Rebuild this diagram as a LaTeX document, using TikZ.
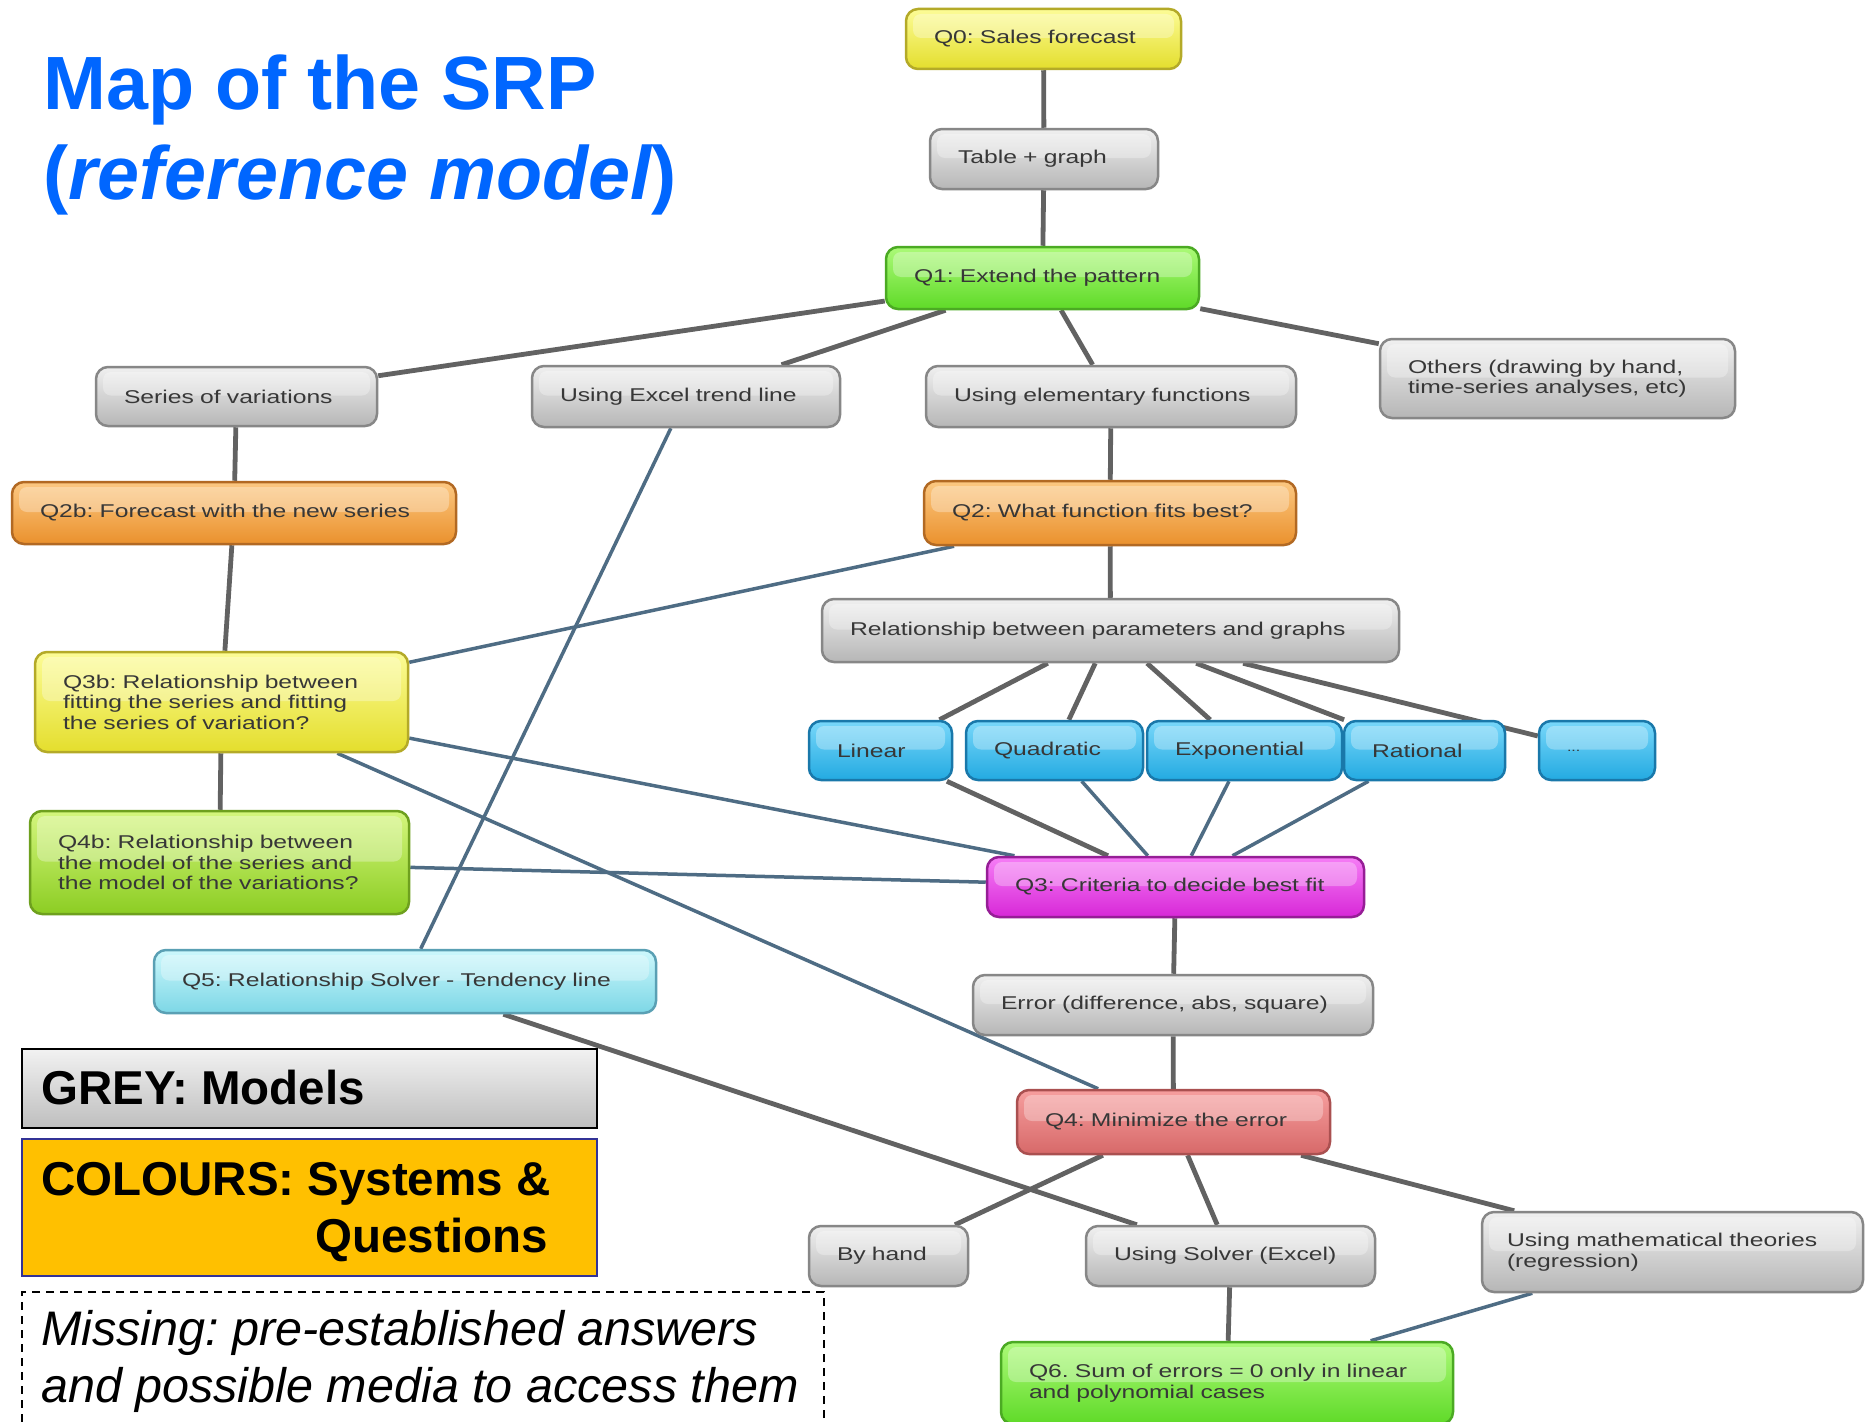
\documentclass[tikz,border=0pt]{standalone}
\usepackage{fontspec}
\setmainfont{Liberation Sans}
\newfontfamily\nodefont[FakeStretch=1.335]{Liberation Sans}
\usetikzlibrary{backgrounds}
\frenchspacing
\definecolor{titleblue}{RGB}{0,102,255}
\definecolor{nodetext}{RGB}{55,55,55}
\definecolor{glinec}{RGB}{98,98,98}
\definecolor{blinec}{RGB}{78,108,132}
\definecolor{legorange}{RGB}{255,192,0}
\definecolor{legborder}{RGB}{50,50,150}
\tikzset{
  mapbox/.style={rounded corners=12pt, line width=2.5pt, inner xsep=28pt, inner ysep=0pt,
    align=left, font=\nodefont\fontsize{18.5}{20.5}\selectfont\frenchspacing, text=nodetext,
    path picture={\fill[white,opacity=0.3,rounded corners=8pt]
      ([xshift=7pt,yshift=-5pt]path picture bounding box.north west) rectangle
      ([xshift=-7pt,yshift=1pt]path picture bounding box.east);}},
  greybox/.style={mapbox, top color={rgb,255:red,240;green,240;blue,240}, bottom color={rgb,255:red,182;green,182;blue,182}, draw={rgb,255:red,135;green,135;blue,135}},
  yellowbox/.style={mapbox, top color={rgb,255:red,252;green,252;blue,150}, bottom color={rgb,255:red,228;green,222;blue,45}, draw={rgb,255:red,180;green,170;blue,40}},
  greenbox/.style={mapbox, top color={rgb,255:red,172;green,250;blue,120}, bottom color={rgb,255:red,95;green,218;blue,40}, draw={rgb,255:red,75;green,170;blue,35}},
  orangebox/.style={mapbox, top color={rgb,255:red,252;green,200;blue,130}, bottom color={rgb,255:red,234;green,145;blue,45}, draw={rgb,255:red,178;green,105;blue,35}},
  limebox/.style={mapbox, top color={rgb,255:red,212;green,246;blue,125}, bottom color={rgb,255:red,140;green,205;blue,35}, draw={rgb,255:red,110;green,160;blue,30}},
  cyanbox/.style={mapbox, top color={rgb,255:red,205;green,248;blue,252}, bottom color={rgb,255:red,125;green,215;blue,230}, draw={rgb,255:red,90;green,160;blue,180}},
  bluebox/.style={mapbox, top color={rgb,255:red,120;green,215;blue,250}, bottom color={rgb,255:red,35;green,170;blue,225}, draw={rgb,255:red,25;green,120;blue,170}},
  magentabox/.style={mapbox, top color={rgb,255:red,246;green,125;blue,246}, bottom color={rgb,255:red,215;green,40;blue,215}, draw={rgb,255:red,150;green,30;blue,150}},
  redbox/.style={mapbox, top color={rgb,255:red,246;green,158;blue,158}, bottom color={rgb,255:red,215;green,105;blue,105}, draw={rgb,255:red,170;green,80;blue,80}},
  gline/.style={draw=glinec, line width=4.8pt},
  bline/.style={draw=blinec, line width=3.5pt},
  titletext/.style={anchor=base west, inner sep=0pt, text=titleblue, font=\fontsize{75.5}{80}\selectfont\bfseries},
  legtext/.style={inner sep=0pt, text=black, font=\fontsize{47.5}{52}\selectfont\bfseries\frenchspacing},
  misstext/.style={anchor=base west, inner sep=0pt, text=black, font=\fontsize{48.5}{52}\selectfont\itshape\frenchspacing}
}
\begin{document}
\begin{tikzpicture}[x=1pt,y=-1pt]
\useasboundingbox (0,0) rectangle (1865,1421);

% Title
\node[titletext] (title1) at (43,109) {Map of the SRP};
\node[titletext] (title2) at (43,199) {({\itshape reference model})};

% Nodes
\node[yellowbox, text width=219pt, minimum height=60pt] (q0) at (1043.5,39) {Q0: Sales forecast};
\node[greybox, text width=172pt, minimum height=60pt] (tab) at (1044,159) {Table + graph};
\node[greenbox, text width=257pt, minimum height=62pt] (q1) at (1042.5,278) {Q1: Extend the pattern};
\node[greybox, text width=225pt, minimum height=59pt] (ser) at (236.5,396.5) {Series of variations};
\node[greybox, text width=252pt, minimum height=61pt] (exc) at (686,396.5) {Using Excel trend line};
\node[greybox, text width=314pt, minimum height=61pt] (elem) at (1111,396.5) {Using elementary functions};
\node[greybox, text width=299pt, minimum height=79pt] (oth) at (1557.5,378.5) {Others (drawing by hand,\\time-series analyses, etc)};
\node[orangebox, text width=388pt, minimum height=62pt] (q2b) at (234,513) {Q2b: Forecast with the new series};
\node[orangebox, text width=316pt, minimum height=64pt] (q2) at (1110,513) {Q2: What function fits best?};
\node[greybox, text width=521pt, minimum height=63pt] (rel) at (1110.5,630.5) {Relationship between parameters and graphs};
\node[yellowbox, text width=317pt, minimum height=100pt] (q3b) at (221.5,702) {Q3b: Relationship between\\fitting the series and fitting\\the series of variation?};
\node[bluebox, text width=87pt, minimum height=59pt] (lin) at (880.5,750.5) {Linear};
\node[bluebox, text width=121pt, minimum height=59pt] (quad) at (1054.5,750.5) {Quadratic};
\node[bluebox, text width=139pt, minimum height=59pt] (expo) at (1244.5,750.5) {Exponential};
\node[bluebox, text width=105pt, minimum height=59pt] (rat) at (1424.5,750.5) {Rational};
\node[bluebox, text width=60pt, minimum height=59pt] (dots) at (1597,750.5) {\fontsize{12}{14}\selectfont ...};
\node[limebox, text width=323pt, minimum height=103pt] (q4b) at (219.5,862.5) {Q4b: Relationship between\\the model of the series and\\the model of the variations?};
\node[magentabox, text width=321pt, minimum height=60pt] (q3) at (1175.5,887) {Q3: Criteria to decide best fit};
\node[cyanbox, text width=446pt, minimum height=63pt] (q5) at (405,981.5) {Q5: Relationship Solver - Tendency line};
\node[greybox, text width=344pt, minimum height=60pt] (err) at (1173,1005) {Error (difference, abs, square)};
\node[redbox, text width=257pt, minimum height=64pt] (q4) at (1173.5,1122) {Q4: Minimize the error};
\node[greybox, text width=103pt, minimum height=60pt] (hand) at (888.5,1256) {By hand};
\node[greybox, text width=233pt, minimum height=60pt] (solv) at (1230.5,1256) {Using Solver (Excel)};
\node[greybox, inner xsep=25pt, text width=331pt, minimum height=80pt] (math) at (1672.5,1252) {Using mathematical theories\\(regression)};
\node[greenbox, text width=396pt, minimum height=82pt] (q6) at (1227,1383) {Q6. Sum of errors = 0 only in linear\\and polynomial cases};

% Connectors
\begin{scope}[on background layer]
\fill[white] (0,0) rectangle (1865,1421);
\draw[gline] (q0) -- (tab);
\draw[gline] (tab) -- (q1);
\draw[gline] (q1) -- (ser);
\draw[gline] (q1) -- (exc);
\draw[gline] (q1) -- (elem);
\draw[gline] (q1) -- (oth);
\draw[gline] (elem) -- (q2);
\draw[gline] (q2) -- (rel);
\draw[gline] (ser) -- (q2b);
\draw[gline] (q2b) -- (q3b);
\draw[gline] (q3b) -- (q4b);
\draw[gline] (rel) -- (lin);
\draw[gline] (rel) -- (quad);
\draw[gline] (rel) -- (expo);
\draw[gline] (rel) -- (rat);
\draw[gline] (rel) -- (dots);
\draw[gline] (lin) -- (q3);
\draw[bline] (quad) -- (q3);
\draw[bline] (expo) -- (q3);
\draw[bline] (rat) -- (q3);
\draw[bline] (q3b) -- (q3);
\draw[bline] (q4b) -- (q3);
\draw[bline] (q3b) -- (q2);
\draw[bline] (exc) -- (q5);
\draw[bline] (q3b) -- (q4);
\draw[gline] (q3) -- (err);
\draw[gline] (err) -- (q4);
\draw[gline] (q4) -- (hand);
\draw[gline] (q4) -- (solv);
\draw[gline] (q4) -- (math);
\draw[gline] (q5) -- (solv);
\draw[gline] (solv) -- (q6);
\draw[bline] (math) -- (q6);
\end{scope}

% Legend
\node[draw=black, line width=2pt, top color={rgb,255:red,242;green,242;blue,242}, bottom color={rgb,255:red,190;green,190;blue,190},
  minimum width=575pt, minimum height=79pt, anchor=north west, inner sep=0pt] (grey) at (21,1048) {};
\node[legtext, anchor=base west] (greytxt) at (41,1104) {GREY: Models};
\node[draw=legborder, line width=2pt, fill=legorange, minimum width=575pt, minimum height=137pt, anchor=north west, inner sep=0pt] (colbox) at (21,1138) {};
\node[legtext, anchor=base west] (col1) at (41,1195) {COLOURS: Systems \&};
\node[legtext, anchor=base east] (col2) at (548,1252) {Questions};
\node[draw=black, line width=2pt, dash pattern=on 8pt off 6pt, minimum width=802pt, minimum height=150pt, anchor=north west, inner sep=0pt] (miss) at (21,1291) {};
\node[misstext] (miss1) at (41,1345) {Missing: pre-established answers};
\node[misstext] (miss2) at (41,1402) {and possible media to access them};
\end{tikzpicture}
\end{document}
